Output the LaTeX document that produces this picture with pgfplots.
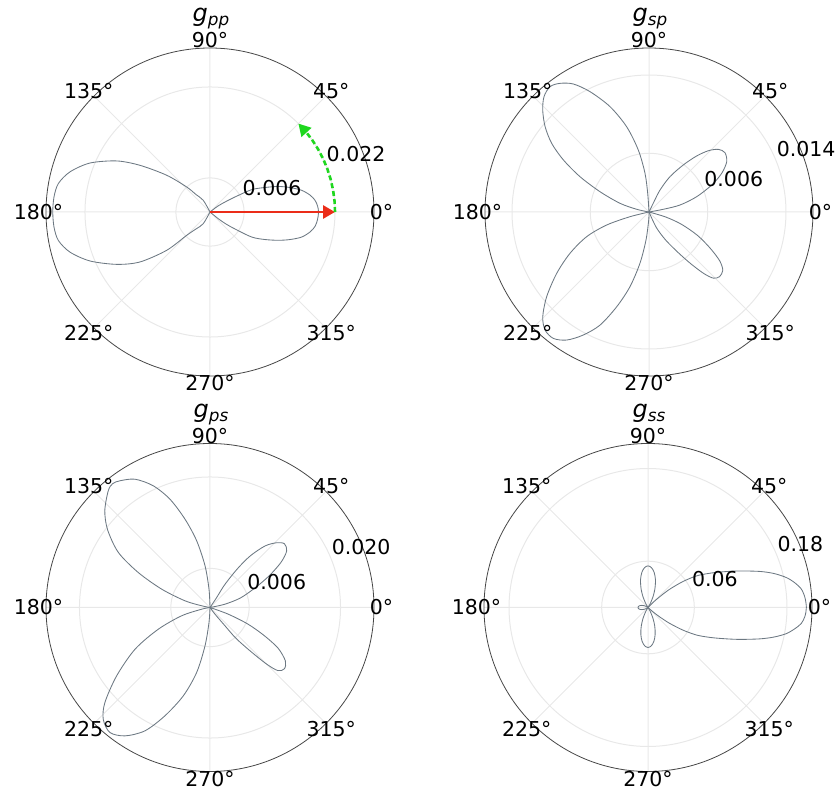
\documentclass[border=0pt]{standalone}
\usepackage{fontspec}
\setmainfont{DejaVu Sans}[ItalicFont={DejaVu Sans Oblique}]
\usepackage{pgfplots}
\pgfplotsset{compat=1.18}
\usepgfplotslibrary{polar}
\usetikzlibrary{arrows.meta}

\definecolor{lobe}{RGB}{108,120,130}
\definecolor{gridc}{RGB}{232,232,232}
\definecolor{rim}{RGB}{70,70,70}
\definecolor{arrowred}{RGB}{235,45,25}
\definecolor{arrowgreen}{RGB}{30,215,30}

\newcommand\lbl{\fontsize{20.5}{24}\selectfont}
\newcommand\ttl[1]{{\fontsize{24}{28}\selectfont\itshape g\raisebox{-4.3pt}{\fontsize{16.8}{18}\selectfont\itshape #1}}}
\newcommand\anglelabels[1]{%
  \foreach \ang in {0,45,...,315} {\path (#1.center) ++(\ang:171.5pt) node[font=\lbl, inner sep=0pt] {\ang°};}%
  }

\tikzset{
  rlabel/.style={anchor=base west, inner sep=0pt, xshift=1pt, yshift=3pt, font=\lbl},
  lobeline/.style={draw=lobe, line width=0.85pt, smooth, mark=none},
}
\pgfplotsset{
  lobepanel/.style={
    scale only axis, width=328pt, height=328pt, anchor=center,
    ymin=0, clip=false, scaled y ticks=false,
    xtick={0,45,...,315}, xticklabels={}, yticklabels={},
    xmajorgrids, ymajorgrids,
    major grid style={draw=gridc, line width=1pt},
    separate axis lines,
    x axis line style={draw=rim, line width=0.8pt},
    y axis line style={draw=none},
    major tick length=0pt,
  },
}

\begin{document}
\begin{tikzpicture}
\useasboundingbox (0,0) rectangle (839pt,790pt);

% ---------------- g_pp ----------------
\begin{polaraxis}[lobepanel, name=pp, at={(210pt,578pt)},
  ymax=0.02886, ytick={0.006,0.022}]
\addplot[lobeline] coordinates {
 (-90,0) (-39.1,0.00181) (-36.9,0.00352) (-34.2,0.00532) (-31.0,0.00855)
 (-26.6,0.01082) (-22.5,0.01301) (-19.0,0.01489) (-15.3,0.01672)
 (-11.3,0.01795) (-7.8,0.01866) (-4.0,0.01897) (0,0.01910) (3.2,0.01896)
 (6.4,0.01859) (9.6,0.01785) (13.3,0.01658) (17.0,0.01473) (20.5,0.01283)
 (24.0,0.01060) (28.2,0.00832) (31.0,0.00514) (33.3,0.00336) (36.9,0.00176)
 (90,0)};
\addplot[lobeline] coordinates {
 (90,0) (120,0.00238) (128.7,0.00394) (133,0.00602) (139.7,0.01000)
 (146.3,0.01480) (151.3,0.01871) (157.8,0.02281) (164,0.02563)
 (169.4,0.02716) (174.5,0.02758) (180,0.02767) (185.5,0.02758)
 (190.6,0.02716) (196,0.02563) (202.2,0.02281) (209.3,0.01883)
 (215.5,0.01514) (221.5,0.01017) (225,0.00581) (230.5,0.00387)
 (240,0.00238) (270,0)};
\addplot[draw=arrowred, line width=2.8pt, mark=none,
  -{Triangle[length=12pt,width=13pt]}] coordinates {(0,0) (0,0.022)};
\addplot[draw=arrowgreen, line width=2.6pt, mark=none,
  dash pattern=on 5pt off 3pt, -{Triangle[length=12pt,width=13pt]}]
  coordinates {(0,0.022) (5,0.022) (10,0.022) (15,0.022) (20,0.022)
  (25,0.022) (30,0.022) (35,0.022) (40,0.022) (45,0.022)};
\node[rlabel] at (axis cs:22.5,0.006) {0.006};
\node[rlabel] at (axis cs:22.5,0.022) {0.022};
\end{polaraxis}
\anglelabels{pp}
\path (pp.center) ++(1pt,190.3pt) node[anchor=base] {\ttl{pp}};

% ---------------- g_sp ----------------
\begin{polaraxis}[lobepanel, name=sp, at={(649pt,578pt)},
  ymax=0.01676, ytick={0.006,0.014}]
\addplot[lobeline] coordinates {
 (0,0) (10.7,0.00149) (12.7,0.00325) (17.8,0.00512) (23.3,0.00698)
 (28.0,0.00841) (32.9,0.00946) (38.0,0.00985) (42.1,0.00955)
 (45.9,0.00872) (49.6,0.00752) (53.9,0.00595) (59.3,0.00420)
 (63.4,0.00251) (64.1,0.00118) (90,0)};
\addplot[lobeline] coordinates {
 (0,0) (-16.7,0.00180) (-20.8,0.00357) (-25.8,0.00551) (-30.6,0.00726)
 (-34.6,0.00877) (-38.3,0.00961) (-42.5,0.00978) (-45.8,0.00943)
 (-48.3,0.00842) (-51.0,0.00684) (-54.2,0.00515) (-59.2,0.00336)
 (-64.7,0.00175) (-90,0)};
\addplot[lobeline] coordinates {
 (90,0) (94,0.00191) (95.9,0.00398) (99.8,0.00643) (104.7,0.00901)
 (110.3,0.01148) (116.1,0.01369) (120.6,0.01520) (124.7,0.01599)
 (128.3,0.01632) (132.3,0.01594) (136.2,0.01505) (140.6,0.01374)
 (144.8,0.01217) (148.7,0.01024) (152.9,0.00792) (157.5,0.00542)
 (163.3,0.00310) (167.6,0.00129) (180,0)};
\addplot[lobeline] coordinates {
 (180,0) (193.9,0.00200) (197.1,0.00453) (201.6,0.00685) (207.6,0.00911)
 (213.6,0.01132) (219.6,0.01357) (224.6,0.01525) (228.6,0.01607)
 (232.9,0.01620) (237.3,0.01555) (241.9,0.01425) (246.6,0.01259)
 (251.2,0.01022) (255.7,0.00788) (260.0,0.00532) (263.9,0.00288)
 (267.9,0.00082) (270,0)};
\node[rlabel] at (axis cs:22.5,0.006) {0.006};
\node[rlabel] at (axis cs:22.5,0.014) {0.014};
\end{polaraxis}
\anglelabels{sp}
\path (sp.center) ++(1pt,190.3pt) node[anchor=base] {\ttl{sp}};

% ---------------- g_ps ----------------
\begin{polaraxis}[lobepanel, name=ps, at={(210pt,182.5pt)},
  ymax=0.02513, ytick={0.006,0.020}]
\addplot[lobeline] coordinates {
 (0,0) (12.4,0.00229) (17.5,0.00494) (24.2,0.00788) (28.4,0.01042)
 (32.5,0.01292) (36.4,0.01460) (40.6,0.01502) (44.3,0.01420)
 (48.2,0.01264) (52.0,0.01006) (54.7,0.00728) (57.2,0.00412)
 (56.2,0.00178) (90,0)};
\addplot[lobeline] coordinates {
 (0,0) (-20,0.00290) (-23.5,0.00621) (-27.2,0.00920) (-30.8,0.01212)
 (-35.3,0.01415) (-39.5,0.01477) (-42.9,0.01420) (-45.0,0.01226)
 (-47.2,0.00912) (-49.9,0.00616) (-50.7,0.00352) (-53.3,0.00125) (-90,0)};
\addplot[lobeline] coordinates {
 (90,0) (93.1,0.00280) (96.8,0.00644) (101.3,0.01042) (105.8,0.01407)
 (110.3,0.01770) (115.0,0.02058) (120.3,0.02277) (125.4,0.02382)
 (128.2,0.02414) (131.1,0.02372) (137.4,0.02190) (142.8,0.01970)
 (149.0,0.01638) (154.0,0.01223) (159.2,0.00792) (165.0,0.00397)
 (168.4,0.00130) (180,0)};
\addplot[lobeline] coordinates {
 (180,0) (191.6,0.00130) (196.3,0.00452) (202.8,0.00860) (209.1,0.01315)
 (216.2,0.01772) (222.1,0.02170) (226.3,0.02368) (231.3,0.02454)
 (236.5,0.02359) (242.2,0.02136) (247.4,0.01798) (253.2,0.01413)
 (258.4,0.01016) (262.6,0.00592) (266.2,0.00230) (270,0)};
\node[rlabel] at (axis cs:22.5,0.006) {0.006};
\node[rlabel] at (axis cs:22.5,0.020) {0.020};
\end{polaraxis}
\anglelabels{ps}
\path (ps.center) ++(1pt,190.3pt) node[anchor=base] {\ttl{ps}};

% ---------------- g_ss ----------------
\begin{polaraxis}[lobepanel, name=ss, at={(648pt,182.5pt)},
  ymax=0.2124, ytick={0.06,0.18}]
\addplot[lobeline] coordinates {
 (-60,0) (-41,0.0085) (-38.7,0.0199) (-36.2,0.0348) (-32.9,0.0540)
 (-29.6,0.0721) (-26.3,0.0866) (-23.3,0.1011) (-19.5,0.1237)
 (-15.7,0.1502) (-13.2,0.1676) (-10.7,0.1823) (-8.2,0.1923)
 (-5.9,0.1997) (-3.2,0.2036) (0,0.2051) (3.6,0.2037) (6.8,0.2001)
 (9.5,0.1930) (12.2,0.1834) (15.1,0.1690) (17.9,0.1520) (22.1,0.1257)
 (26.3,0.1036) (29.5,0.0894) (33.1,0.0749) (36.6,0.0565) (40.1,0.0368)
 (42.5,0.0211) (45,0.0092) (60,0)};
\addplot[lobeline] coordinates {
 (55,0) (60,0.0057) (65,0.0154) (70,0.0265) (75,0.0373) (80,0.0461)
 (85,0.0518) (90,0.0539) (95,0.0518) (100,0.0461) (105,0.0373)
 (110,0.0265) (115,0.0154) (120,0.0057) (125,0)};
\addplot[lobeline] coordinates {
 (145,0) (150,0.0028) (155,0.0056) (160,0.0080) (165,0.0101) (170,0.0117)
 (175,0.0126) (180,0.0130) (185,0.0126) (190,0.0117) (195,0.0101)
 (200,0.0080) (205,0.0056) (210,0.0028) (215,0)};
\addplot[lobeline] coordinates {
 (235,0) (240,0.0054) (245,0.0148) (250,0.0255) (255,0.0359) (260,0.0443)
 (265,0.0498) (270,0.0518) (275,0.0498) (280,0.0443) (285,0.0359)
 (290,0.0255) (295,0.0148) (300,0.0054) (305,0)};
\node[rlabel] at (axis cs:22.5,0.06) {0.06};
\node[rlabel] at (axis cs:22.5,0.18) {0.18};
\end{polaraxis}
\anglelabels{ss}
\path (ss.center) ++(1pt,190.3pt) node[anchor=base] {\ttl{ss}};
\end{tikzpicture}
\end{document}
